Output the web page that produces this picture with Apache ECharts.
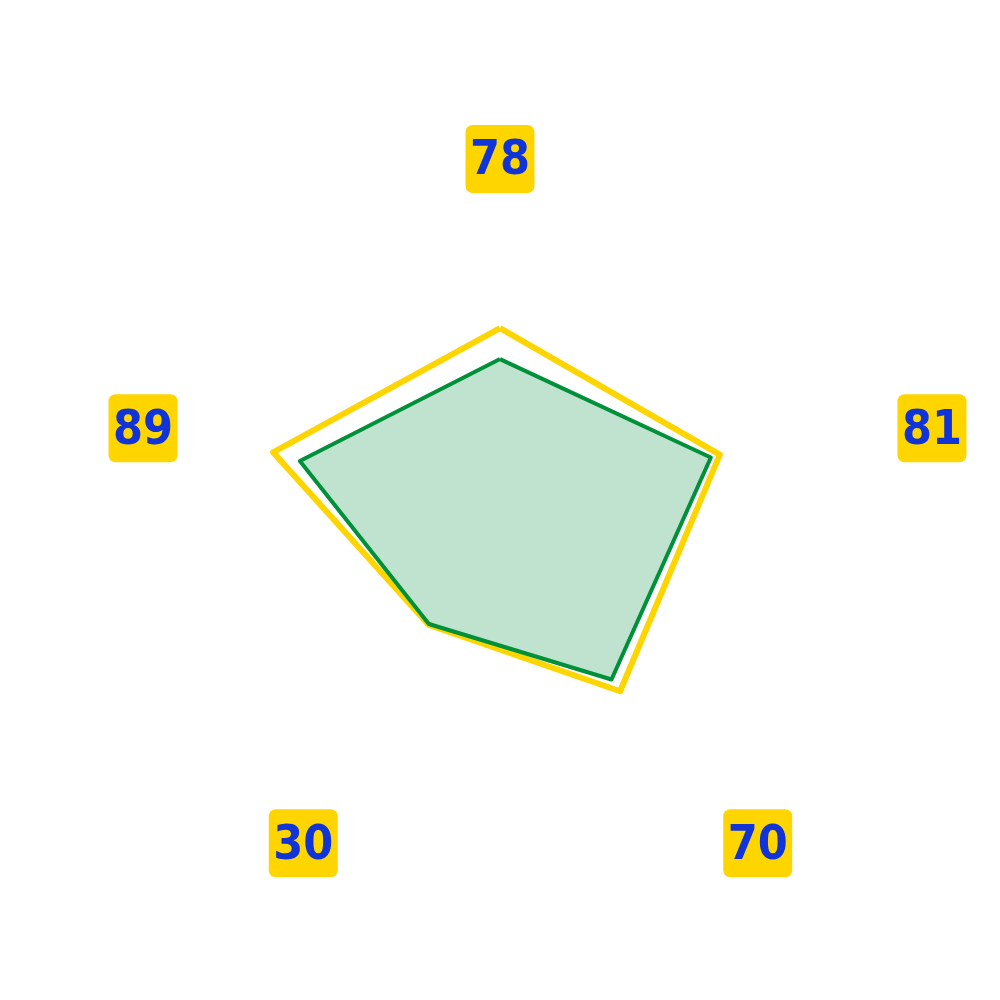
<!DOCTYPE html>
<html>
<head>
<meta charset="utf-8">
<script src="https://cdn.jsdelivr.net/npm/echarts@6/dist/echarts.min.js"></script>
<style>html,body{margin:0;padding:0;background:#fff}#c{width:1000px;height:1000px}</style>
</head>
<body>
<div id="c"></div>
<script>
// Indicators in ECharts order (counter-clockwise from top): top, left, bottom-left, bottom-right, right
const indicatorNames = ['78', '89', '30', '70', '81'];
const indicatorMax = [100, 100, 100, 100, 100];
const outerValues = [77.3, 93.2, 47.6, 79.8, 90.3];
const innerValues = [65.2, 82.2, 47.3, 74.1, 86.6];

// label offsets: horizontal spacer width, extra line height, extra line above?
const labelSpace = [0, 60, 0, 61, 135];
const labelLine = [60, 25, 188, 188, 25];
const labelLineAbove = [false, false, true, true, false];

const rich = {
  box: {
    width: 69, height: 62, lineHeight: 62, align: 'center', verticalAlign: 'middle',
    padding: [6, 0, 0, 0],
    backgroundColor: '#FFD500', borderRadius: 7,
    color: '#1034d8', fontSize: 48, fontWeight: 900,
    fontFamily: '"Noto Sans ExtraCondensed", "Noto Sans Condensed", "DejaVu Sans Condensed", sans-serif'
  }
};
indicatorNames.forEach((n, i) => {
  rich['sp' + i] = { width: labelSpace[i], fontSize: 10, lineHeight: 10 };
  rich['vs' + i] = { height: labelLine[i], lineHeight: labelLine[i], fontSize: 10 };
});

function nameFormatter(name) {
  const i = indicatorNames.indexOf(name);
  const sp = labelSpace[i] > 0 ? '{sp' + i + '| }' : '';
  const vs = '{vs' + i + '| }';
  let line;
  if (i === 0) line = '{box|' + name + '}';
  else if (i === 1 || i === 2) line = '{box|' + name + '}' + sp;  // right-aligned
  else line = sp + '{box|' + name + '}';                            // left-aligned
  return labelLineAbove[i] ? vs + '\n' + line : line + '\n' + vs;
}

const chart = echarts.init(document.getElementById('c'));
chart.setOption({
  backgroundColor: '#ffffff',
  radar: {
    center: [500, 526],
    radius: 256,
    startAngle: 90,
    nameGap: 20,
    axisLine: { show: false },
    splitLine: { show: false },
    splitArea: { show: false },
    axisTick: { show: false },
    axisLabel: { show: false },
    axisName: {
      formatter: nameFormatter,
      rich: rich
    },
    indicator: indicatorNames.map((n, i) => ({ name: n, max: indicatorMax[i] }))
  },
  series: [{
    type: 'radar',
    silent: true,
    symbol: 'none',
    data: [
      {
        value: outerValues,
        lineStyle: { color: '#FFD500', width: 6 },
        areaStyle: { opacity: 0 }
      },
      {
        value: innerValues,
        lineStyle: { color: '#00913a', width: 4 },
        areaStyle: { color: '#00913a', opacity: 0.25 }
      }
    ]
  }]
});
</script>
</body>
</html>
